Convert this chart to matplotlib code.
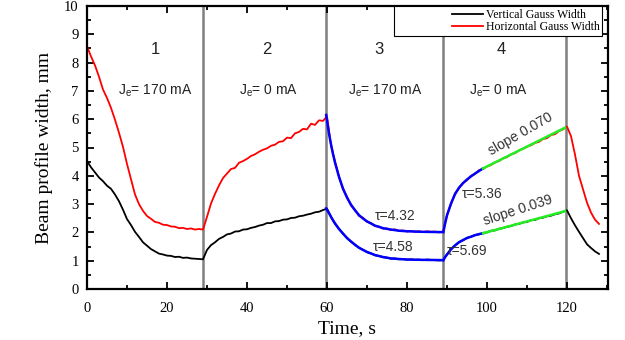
import matplotlib
matplotlib.use("Agg")
import matplotlib.pyplot as plt
from matplotlib.patches import Rectangle
from matplotlib.ticker import MultipleLocator

# time axis, s
time_s = list(range(0, 129))

# horizontal gauss width, mm
horizontal = [
    8.58, 8.22, 7.90, 7.50, 7.05, 6.75, 6.40, 5.98, 5.52, 5.02,
    4.42, 3.88, 3.34, 3.00, 2.76, 2.58, 2.48, 2.37, 2.34, 2.27,
    2.26, 2.21, 2.20, 2.15, 2.16, 2.12, 2.14, 2.10, 2.12, 2.10,
    2.55, 3.02, 3.36, 3.66, 3.92, 4.08, 4.24, 4.28, 4.46, 4.52,
    4.60, 4.70, 4.76, 4.85, 4.92, 4.97, 5.06, 5.10, 5.20, 5.22,
    5.35, 5.33, 5.50, 5.55, 5.66, 5.64, 5.84, 5.80, 5.96, 5.94,
    6.10, 5.08, 4.50, 3.98, 3.52, 3.26, 2.95, 2.80, 2.58, 2.52,
    2.37, 2.33, 2.22, 2.21, 2.13, 2.14, 2.08, 2.11, 2.05, 2.07,
    2.03, 2.05, 2.02, 2.04, 2.01, 2.04, 2.02, 2.03, 2.00, 2.02,
    2.62, 3.00, 3.38, 3.56, 3.75, 3.84, 4.00, 4.06, 4.20, 4.24,
    4.33, 4.38, 4.48, 4.52, 4.62, 4.66, 4.76, 4.80, 4.90, 4.95,
    5.03, 5.08, 5.16, 5.20, 5.30, 5.33, 5.44, 5.47, 5.58, 5.64,
    5.74, 5.40, 4.75, 4.00, 3.52, 3.05, 2.70, 2.45, 2.30,
]

# vertical gauss width, mm
vertical = [
    4.52, 4.30, 4.12, 3.94, 3.81, 3.65, 3.54, 3.34, 3.10, 2.80,
    2.47, 2.26, 2.02, 1.84, 1.65, 1.53, 1.41, 1.33, 1.25, 1.22,
    1.18, 1.17, 1.13, 1.14, 1.10, 1.11, 1.08, 1.07, 1.06, 1.05,
    1.38, 1.55, 1.65, 1.77, 1.84, 1.93, 1.96, 2.03, 2.04, 2.10,
    2.11, 2.16, 2.19, 2.24, 2.27, 2.33, 2.33, 2.39, 2.40, 2.45,
    2.46, 2.51, 2.52, 2.57, 2.59, 2.63, 2.66, 2.71, 2.73, 2.79,
    2.84, 2.55, 2.30, 2.13, 1.95, 1.81, 1.67, 1.57, 1.45, 1.39,
    1.30, 1.26, 1.19, 1.17, 1.12, 1.11, 1.07, 1.08, 1.05, 1.06,
    1.04, 1.05, 1.03, 1.04, 1.02, 1.04, 1.03, 1.02, 1.01, 1.02,
    1.22, 1.41, 1.54, 1.66, 1.72, 1.81, 1.84, 1.91, 1.93, 1.98,
    2.00, 2.06, 2.07, 2.13, 2.15, 2.20, 2.22, 2.28, 2.30, 2.35,
    2.37, 2.43, 2.44, 2.50, 2.52, 2.57, 2.59, 2.64, 2.67, 2.73,
    2.78, 2.50, 2.25, 2.02, 1.80, 1.58, 1.45, 1.33, 1.24,
]

# exponential fits, segment 3
fit3_t = [59.8, 60.5, 61, 61.5, 62, 63, 64, 65, 66, 67, 68, 69, 70, 72, 74, 76, 78, 80, 84, 89]
fit3_hor = [6.15, 5.49, 5.11, 4.77, 4.47, 3.96, 3.55, 3.23, 2.98, 2.78, 2.61, 2.49, 2.39,
            2.24, 2.15, 2.10, 2.06, 2.04, 2.02, 2.01]
fit3_ver = [2.85, 2.68, 2.55, 2.43, 2.32, 2.12, 1.96, 1.80, 1.68, 1.56, 1.46, 1.38, 1.31,
            1.20, 1.13, 1.08, 1.06, 1.04, 1.03, 1.02]

# exponential fits, segment 4
fit4_t = [89.1, 89.5, 90, 91, 92, 93, 94, 95, 96, 97, 98, 99]
fit4_hor = [2.02, 2.30, 2.60, 3.02, 3.35, 3.58, 3.74, 3.87, 3.98, 4.08, 4.17, 4.26]
fit4_ver = [1.02, 1.12, 1.22, 1.40, 1.54, 1.65, 1.73, 1.80, 1.85, 1.90, 1.94, 1.97]

# linear fits
lin_t = [99, 119.5]
lin_hor = [4.26, 5.70]
lin_ver = [1.97, 2.75]

# segment borders and labels
borders = [28.9, 59.7, 89.1, 119.7]
seg_names = ["1", "2", "3", "4"]
seg_x = [17, 45, 73, 103.5]
seg_current = ["J$_\\mathregular{e}$= 170 mA", "J$_\\mathregular{e}$= 0 mA",
               "J$_\\mathregular{e}$= 170 mA", "J$_\\mathregular{e}$= 0 mA"]
cur_x = [17, 45.5, 74.5, 103]

serif = "Liberation Serif"
sans = "Liberation Sans"
txt_col = "#222222"

fig = plt.figure(figsize=(6.25, 3.4), dpi=100)
ax = fig.add_axes([87 / 625, 1 - 289 / 340, (608 - 87) / 625, (289 - 6) / 340])

for b in borders:
    ax.axvline(b, color="#808080", lw=1.8, zorder=1)

ax.plot(time_s, vertical, color="black", lw=1.3, label="Vertical Gauss Width", zorder=2)
ax.plot(time_s, horizontal, color="#ff0000", lw=1.3, label="Horizontal Gauss Width", zorder=2)

ax.plot(fit3_t, fit3_hor, color="#0000ff", lw=1.8, zorder=3)
ax.plot(fit3_t, fit3_ver, color="#0000ff", lw=1.8, zorder=3)
ax.plot(fit4_t, fit4_hor, color="#0000ff", lw=1.8, zorder=3)
ax.plot(fit4_t, fit4_ver, color="#0000ff", lw=1.8, zorder=3)
ax.plot(lin_t, lin_hor, color="#22ee22", lw=1.8, zorder=3)
ax.plot(lin_t, lin_ver, color="#22ee22", lw=1.8, zorder=3)

for x, s in zip(seg_x, seg_names):
    ax.text(x, 8.45, s, ha="center", va="center", fontsize=12, family=sans, color=txt_col)
for x, s in zip(cur_x, seg_current):
    ax.text(x, 7.0, s, ha="center", va="center", fontsize=10, family=sans, color=txt_col)

ax.text(72, 2.58, "τ=4.32", ha="left", va="center", fontsize=10, family=sans, color="#333333")
ax.text(71.5, 1.48, "τ=4.58", ha="left", va="center", fontsize=10, family=sans, color="#333333")
ax.text(93.6, 3.35, "τ=5.36", ha="left", va="center", fontsize=10, family=sans, color="#333333")
ax.text(90, 1.34, "τ=5.69", ha="left", va="center", fontsize=10, family=sans, color="#333333")
ax.text(108.3, 5.48, "slope 0.070", ha="center", va="center", rotation=30,
        rotation_mode="anchor", fontsize=10, family=sans, color="#333333")
ax.text(107.8, 2.79, "slope 0.039", ha="center", va="center", rotation=18,
        rotation_mode="anchor", fontsize=10, family=sans, color="#333333")

ax.set_xlim(0, 130.25)
ax.set_ylim(0, 10)
ax.xaxis.set_major_locator(MultipleLocator(20))
ax.xaxis.set_minor_locator(MultipleLocator(10))
ax.yaxis.set_major_locator(MultipleLocator(1))
ax.yaxis.set_minor_locator(MultipleLocator(0.5))
ax.tick_params(which="both", direction="in", top=True, right=True, width=1.3)
ax.tick_params(which="major", length=5, labelsize=10.5)
ax.tick_params(axis="x", which="major", pad=9)
ax.tick_params(axis="y", which="major", pad=6)
ax.tick_params(which="minor", length=3)
for lab in ax.get_xticklabels() + ax.get_yticklabels():
    lab.set_family(serif)
for sp in ax.spines.values():
    sp.set_linewidth(1.6)

ax.set_xlabel("Time, s", family=serif, fontsize=14, labelpad=4)
ax.set_ylabel("Beam profile width, mm", family=serif, fontsize=14, labelpad=8)

# legend box drawn by hand, legend itself frameless
fig.patches.append(Rectangle((394 / 625, 1 - 36 / 340), 208 / 625, 30 / 340,
                             transform=fig.transFigure, facecolor="white",
                             edgecolor="black", lw=0.8, zorder=5))
leg = fig.legend(loc="center right", bbox_to_anchor=(600 / 625, 1 - 21 / 340),
                 prop={"family": serif, "size": 8.5}, frameon=False,
                 labelspacing=0.05, handlelength=2.6, handletextpad=0.3,
                 borderpad=0, borderaxespad=0)
leg.set_zorder(6)

fig.savefig("out.png", dpi=100)
